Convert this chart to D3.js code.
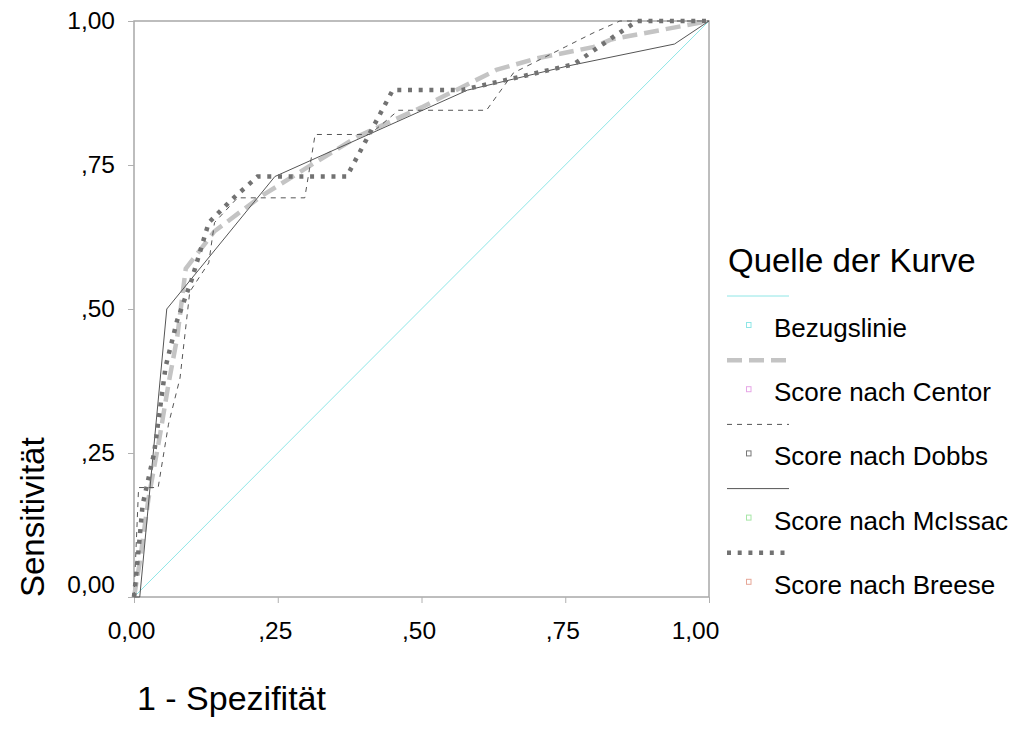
<!DOCTYPE html>
<html>
<head>
<meta charset="utf-8">
<script src="https://cdn.jsdelivr.net/npm/d3@7/dist/d3.min.js"></script>
<style>
  body { margin: 0; background: #fff; }
  svg text { font-family: "Liberation Sans", Arial, sans-serif; fill: #000; }
</style>
</head>
<body>
<div id="chart"></div>
<script>
// ROC curves: [1 - specificity, sensitivity]
var tickValues = [0, 0.25, 0.5, 0.75, 1];
var tickLabels = ['0,00', ',25', ',50', ',75', '1,00'];

var refLine = [[0, 0], [1, 1]];

var centor = [[0, 0], [0.01, 0.06], [0.025, 0.17], [0.045, 0.28], [0.06, 0.37],
  [0.075, 0.45], [0.09, 0.57], [0.14, 0.635], [0.22, 0.695], [0.30, 0.745],
  [0.39, 0.80], [0.50, 0.85], [0.63, 0.915], [0.70, 0.935], [0.80, 0.955],
  [0.83, 0.968], [0.92, 0.985], [1, 1]];

var dobbs = [[0, 0], [0.008, 0.19], [0.042, 0.19], [0.06, 0.30], [0.08, 0.38],
  [0.097, 0.53], [0.13, 0.58], [0.14, 0.65], [0.18, 0.693], [0.297, 0.693],
  [0.315, 0.803], [0.41, 0.803], [0.46, 0.845], [0.613, 0.845], [0.66, 0.91],
  [0.75, 0.955], [0.80, 0.98], [0.845, 1], [1, 1]];

var mcissac = [[0, 0], [0.01, 0], [0.057, 0.5], [0.245, 0.73], [0.58, 0.88],
  [0.755, 0.922], [0.94, 0.96], [1, 1]];

var breese = [[0, 0], [0.005, 0.05], [0.015, 0.16], [0.035, 0.25], [0.055, 0.40],
  [0.075, 0.48], [0.1, 0.55], [0.13, 0.65], [0.17, 0.69], [0.215, 0.73],
  [0.37, 0.73], [0.45, 0.88], [0.57, 0.88], [0.68, 0.905], [0.765, 0.925],
  [0.83, 0.97], [0.875, 1], [1, 1]];

var seriesNames = ['Bezugslinie', 'Score nach Centor', 'Score nach Dobbs',
  'Score nach McIssac', 'Score nach Breese'];

var styles = [
  {stroke: '#8ee6e6', width: 1,   dash: null,  marker: '#8ee6e6'},
  {stroke: '#c4c4c4', width: 4.5, dash: '15,7', marker: '#e6a6e6'},
  {stroke: '#555555', width: 1,   dash: '5,5', marker: '#777777'},
  {stroke: '#555555', width: 1,   dash: null,  marker: '#a6e6a6'},
  {stroke: '#727272', width: 4.5, dash: '4,6.7', marker: '#e6a696'}
];
var curves = [refLine, centor, dobbs, mcissac, breese];

var width = 1016, height = 729;
var plot = {left: 134, top: 21, right: 709, bottom: 597};

var svg = d3.select('#chart').append('svg')
  .attr('width', width)
  .attr('height', height);

var x = d3.scaleLinear().domain([0, 1]).range([plot.left, plot.right]);
var y = d3.scaleLinear().domain([0, 1]).range([plot.bottom, plot.top]);

// frame
svg.append('rect')
  .attr('x', plot.left).attr('y', plot.top)
  .attr('width', plot.right - plot.left)
  .attr('height', plot.bottom - plot.top)
  .attr('fill', 'none')
  .attr('stroke', '#a8a8a8')
  .attr('stroke-width', 1.5);

// axes
var yAxis = svg.append('g')
  .attr('transform', 'translate(' + plot.left + ',0)')
  .call(d3.axisLeft(y).tickValues(tickValues)
    .tickFormat(function(d, i) { return tickLabels[i]; })
    .tickSize(6).tickPadding(13));

var xAxis = svg.append('g')
  .attr('transform', 'translate(0,' + plot.bottom + ')')
  .call(d3.axisBottom(x).tickValues(tickValues)
    .tickFormat(function(d, i) { return tickLabels[i]; })
    .tickSize(6).tickPadding(19));

[yAxis, xAxis].forEach(function(g) {
  g.select('.domain').remove();
  g.selectAll('.tick line').attr('stroke', '#b0b0b0');
  g.selectAll('.tick text')
    .style('font-size', '24.5px')
    .style('font-family', '"Liberation Sans", Arial, sans-serif')
    .attr('fill', '#000');
});
// SPSS pushes the 0,00 label up and the last x label inward
yAxis.selectAll('.tick text').filter(function(d) { return d === 0; }).attr('dy', '-0.18em');
xAxis.selectAll('.tick text').attr('dx', -3);
xAxis.selectAll('.tick text').filter(function(d) { return d === 1; }).attr('dx', -14);

// curves
var line = d3.line()
  .x(function(d) { return x(d[0]); })
  .y(function(d) { return y(d[1]); });

svg.append('g').selectAll('path')
  .data(curves)
  .enter().append('path')
  .attr('d', line)
  .attr('fill', 'none')
  .attr('stroke', function(d, i) { return styles[i].stroke; })
  .attr('stroke-width', function(d, i) { return styles[i].width; })
  .attr('stroke-dasharray', function(d, i) { return styles[i].dash; });

// axis titles
svg.append('text')
  .attr('x', 137).attr('y', 710)
  .style('font-size', '34px')
  .text('1 - Spezifität');

svg.append('text')
  .attr('transform', 'translate(44,597) rotate(-90)')
  .style('font-size', '33px')
  .text('Sensitivität');

// legend
var legend = svg.append('g');
legend.append('text')
  .attr('x', 728).attr('y', 272)
  .style('font-size', '33px')
  .text('Quelle der Kurve');

var item = legend.selectAll('g.item')
  .data(seriesNames)
  .enter().append('g')
  .attr('class', 'item')
  .attr('transform', function(d, i) { return 'translate(0,' + (i * 64.2) + ')'; });

item.append('line')
  .attr('x1', 727).attr('x2', 789)
  .attr('y1', 296).attr('y2', 296)
  .attr('stroke', function(d, i) { return styles[i].stroke; })
  .attr('stroke-width', function(d, i) { return styles[i].width; })
  .attr('stroke-dasharray', function(d, i) { return styles[i].dash; });

item.append('rect')
  .attr('x', 746.5).attr('y', 322.5)
  .attr('width', 4.5).attr('height', 5)
  .attr('fill', 'none')
  .attr('stroke', function(d, i) { return styles[i].marker; })
  .attr('stroke-width', 1);

item.append('text')
  .attr('x', 774).attr('y', 337)
  .style('font-size', '26px')
  .text(function(d) { return d; });
</script>
</body>
</html>
